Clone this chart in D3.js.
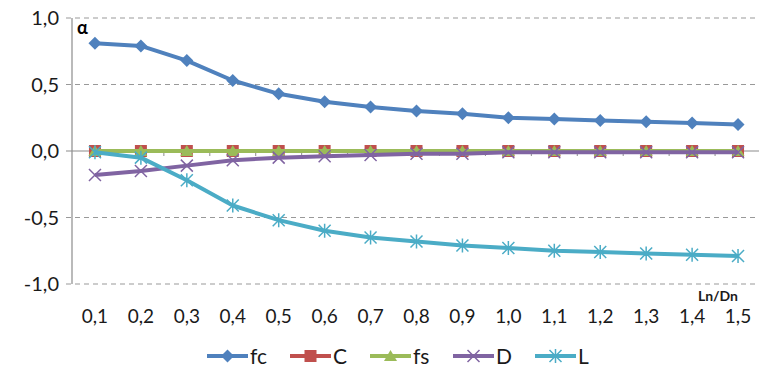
<!DOCTYPE html>
<html>
<head>
<meta charset="utf-8">
<script src="https://cdn.jsdelivr.net/npm/d3@7"></script>
<style>
  body { margin: 0; background: #fff; }
  svg text { font-family: Lato, "Open Sans", sans-serif; }
</style>
</head>
<body>
<div id="chart"></div>
<script>
// categories (Ln/Dn)
var categories = ["0,1","0,2","0,3","0,4","0,5","0,6","0,7","0,8","0,9","1,0","1,1","1,2","1,3","1,4","1,5"];
var yTicks = [-1, -0.5, 0, 0.5, 1];

// series values
var fc = [0.81, 0.79, 0.68, 0.53, 0.43, 0.37, 0.33, 0.30, 0.28, 0.25, 0.24, 0.23, 0.22, 0.21, 0.20];
var C  = [0, 0, 0, 0, 0, 0, 0, 0, 0, 0, 0, 0, 0, 0, 0];
var fs = [0, 0, 0, 0, 0, 0, 0, 0, 0, 0, 0, 0, 0, 0, 0];
var D  = [-0.18, -0.15, -0.11, -0.07, -0.05, -0.04, -0.03, -0.02, -0.02, -0.01, -0.01, -0.01, -0.01, -0.01, -0.01];
var L  = [-0.01, -0.05, -0.22, -0.41, -0.52, -0.60, -0.65, -0.68, -0.71, -0.73, -0.75, -0.76, -0.77, -0.78, -0.79];

var series = [
  {name: "fc", values: fc, color: "#4F81BD", marker: "diamond"},
  {name: "C",  values: C,  color: "#C0504D", marker: "square"},
  {name: "fs", values: fs, color: "#9BBB59", marker: "triangle"},
  {name: "D",  values: D,  color: "#8064A2", marker: "x"},
  {name: "L",  values: L,  color: "#4BACC6", marker: "star"}
];

var width = 759, height = 374;
var margin = {left: 72};

var svg = d3.select("#chart").append("svg")
  .attr("width", width).attr("height", height);

var x = d3.scaleBand().domain(categories).range([margin.left, 761]);
var y = d3.scaleLinear().domain([-1, 1]).range([284, 18]);

var fmt = function(d) { return d3.format(".1f")(d).replace(".", ",").replace("−", "-"); };

// gridlines
svg.append("g").selectAll("line")
  .data(yTicks.filter(function(d) { return d !== 0; }))
  .enter().append("line")
  .attr("x1", margin.left - 6).attr("x2", width)
  .attr("y1", function(d) { return y(d); }).attr("y2", function(d) { return y(d); })
  .attr("stroke", "#999").attr("stroke-width", 1.2)
  .attr("stroke-dasharray", "5,4");

// y axis
svg.append("line")
  .attr("x1", margin.left).attr("x2", margin.left)
  .attr("y1", y(1)).attr("y2", y(-1))
  .attr("stroke", "#8c8c8c").attr("stroke-width", 1.2);
svg.append("g").selectAll("text")
  .data(yTicks).enter().append("text")
  .attr("x", 59).attr("y", function(d) { return y(d); })
  .attr("dy", "0.36em")
  .attr("text-anchor", "end")
  .attr("font-size", 20).attr("fill", "#1a1a1a")
  .text(fmt);

// zero axis with category ticks
svg.append("line")
  .attr("x1", margin.left - 6).attr("x2", width)
  .attr("y1", y(0)).attr("y2", y(0))
  .attr("stroke", "#8c8c8c").attr("stroke-width", 1.2);
svg.append("g").selectAll("line")
  .data(categories).enter().append("line")
  .attr("x1", function(d) { return x(d) + x.bandwidth(); })
  .attr("x2", function(d) { return x(d) + x.bandwidth(); })
  .attr("y1", y(0)).attr("y2", y(0) + 5)
  .attr("stroke", "#8c8c8c").attr("stroke-width", 1);

// x labels at bottom
svg.append("g").selectAll("text")
  .data(categories).enter().append("text")
  .attr("x", function(d) { return x(d) + x.bandwidth() / 2; })
  .attr("y", 323)
  .attr("text-anchor", "middle")
  .attr("font-size", 19).attr("fill", "#1a1a1a")
  .text(function(d) { return d; });

// axis titles
svg.append("text").attr("x", 77).attr("y", 34)
  .attr("font-size", 18).attr("font-weight", "bold").attr("fill", "#000")
  .text("α");
svg.append("text").attr("x", 738).attr("y", 301)
  .attr("text-anchor", "end")
  .attr("font-size", 14).attr("font-weight", "bold").attr("fill", "#1a1a1a")
  .text("Ln/Dn");

// marker drawing
function drawMarker(g, type, color) {
  if (type === "diamond") {
    g.append("path").attr("d", "M0,-6.5L6.5,0L0,6.5L-6.5,0Z").attr("fill", color);
  } else if (type === "square") {
    g.append("rect").attr("x", -6).attr("y", -6).attr("width", 12).attr("height", 12).attr("fill", color);
  } else if (type === "triangle") {
    g.append("path").attr("d", "M0,-6L6.5,5L-6.5,5Z").attr("fill", color);
  } else if (type === "x") {
    g.append("path").attr("d", "M-6,-6L6,6M-6,6L6,-6").attr("stroke", color).attr("stroke-width", 1.5);
  } else if (type === "star") {
    g.append("path").attr("d", "M-6,-6L6,6M-6,6L6,-6M0,-7L0,7").attr("stroke", color).attr("stroke-width", 1.5);
  }
}

var line = d3.line()
  .x(function(d, i) { return x(categories[i]) + x.bandwidth() / 2; })
  .y(function(d) { return y(d); });

series.forEach(function(s) {
  var g = svg.append("g");
  g.append("path")
    .datum(s.values)
    .attr("d", line)
    .attr("fill", "none")
    .attr("stroke", s.color)
    .attr("stroke-width", 4)
    .attr("stroke-linejoin", "round");
  s.values.forEach(function(v, i) {
    var m = g.append("g")
      .attr("transform", "translate(" + (x(categories[i]) + x.bandwidth() / 2) + "," + y(v) + ")");
    drawMarker(m, s.marker, s.color);
  });
});

// legend
var legendX = [207, 290, 370, 453, 535];
var legend = svg.append("g").selectAll("g")
  .data(series).enter().append("g")
  .attr("transform", function(d, i) { return "translate(" + legendX[i] + ",356)"; });
legend.append("line")
  .attr("x1", 0).attr("x2", 41)
  .attr("stroke", function(d) { return d.color; })
  .attr("stroke-width", 4);
legend.each(function(d) {
  var m = d3.select(this).append("g").attr("transform", "translate(20.5,0)");
  drawMarker(m, d.marker, d.color);
});
legend.append("text")
  .attr("x", 43).attr("dy", "0.36em")
  .attr("font-size", 21).attr("fill", "#1a1a1a")
  .text(function(d) { return d.name; });
</script>
</body>
</html>
